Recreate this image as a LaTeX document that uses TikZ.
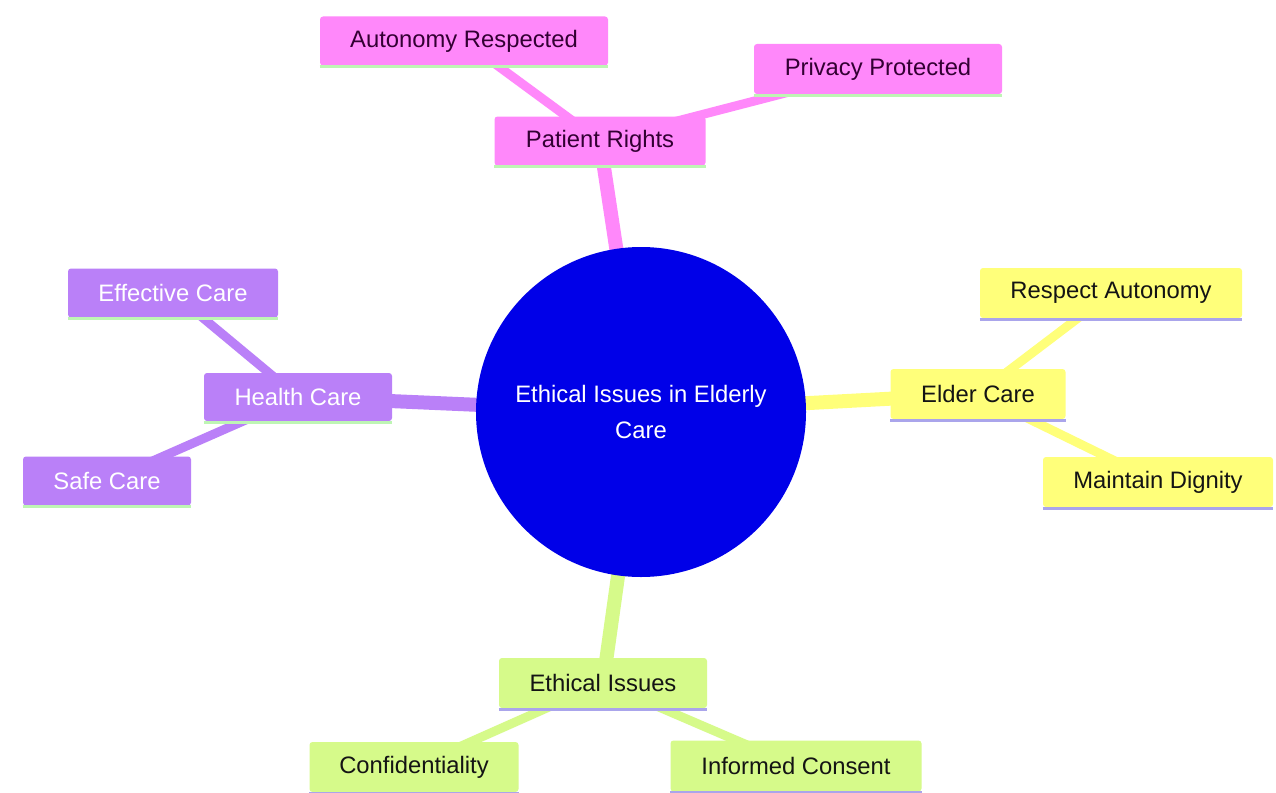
\documentclass[tikz,border=0pt]{standalone}
\usepackage{fontspec}
\setmainfont{Liberation Sans}
\usetikzlibrary{backgrounds}
\definecolor{cblue}{RGB}{0,0,232}
\definecolor{cpink}{RGB}{255,136,250}
\definecolor{cpurple}{RGB}{186,128,248}
\definecolor{cyellow}{RGB}{255,255,122}
\definecolor{cgreen}{RGB}{214,250,138}
\definecolor{cpinktxt}{RGB}{51,0,51}
\definecolor{cdarktxt}{RGB}{20,20,20}
\definecolor{clgreen}{RGB}{190,245,180}
\definecolor{clav}{RGB}{170,165,235}
\begin{document}
\begin{tikzpicture}[x=1pt,y=-1pt,
  box/.style={rectangle,rounded corners=3pt,inner sep=0pt,font=\fontsize{23.8}{28}\selectfont},
  pinkbox/.style={box,fill=cpink,text=cpinktxt},
  purplebox/.style={box,fill=cpurple,text=white},
  yellowbox/.style={box,fill=cyellow,text=cdarktxt},
  greenbox/.style={box,fill=cgreen,text=cdarktxt},
  mainlink/.style={line width=14pt},
  sublink/.style={line width=9pt},
  underline/.style={line width=3pt}]
\useasboundingbox (0,0) rectangle (1276,792);
% root
\node[circle,fill=cblue,minimum size=330pt,inner sep=0pt,text=white,align=center,
  font=\fontsize{23.8}{36}\selectfont] (root) at (641,412) {Ethical Issues in Elderly\\Care};
% patient rights (pink)
\node[pinkbox,minimum width=211pt,minimum height=49pt] (pr) at (600,141) {Patient Rights};
\node[pinkbox,minimum width=288pt,minimum height=49pt] (ar) at (464,41) {Autonomy Respected};
\node[pinkbox,minimum width=248pt,minimum height=50pt] (pp) at (878,69) {Privacy Protected};
% health care (purple)
\node[purplebox,minimum width=188pt,minimum height=48pt] (hc) at (298,397) {Health Care};
\node[purplebox,minimum width=210pt,minimum height=49pt] (ec) at (173,293) {Effective Care};
\node[purplebox,minimum width=168pt,minimum height=49pt] (sc) at (107,481) {Safe Care};
% elder care (yellow)
\node[yellowbox,minimum width=175pt,minimum height=50pt] (elc) at (978,394) {Elder Care};
\node[yellowbox,minimum width=262pt,minimum height=50pt] (ra) at (1111,293) {Respect Autonomy};
\node[yellowbox,minimum width=230pt,minimum height=50pt] (md) at (1158,482) {Maintain Dignity};
% ethical issues (green)
\node[greenbox,minimum width=208pt,minimum height=50pt] (ei) at (603,683) {Ethical Issues};
\node[greenbox,minimum width=209pt,minimum height=50pt] (cf) at (414,767) {Confidentiality};
\node[greenbox,minimum width=251pt,minimum height=51pt] (ic) at (796,766) {Informed Consent};
% underlines
\foreach \n in {pr,ar,pp,hc,ec,sc}{
  \draw[underline,clgreen] ([yshift=-1pt]\n.south west) -- ([yshift=-1pt]\n.south east);}
\foreach \n in {elc,ra,md,ei,cf,ic}{
  \draw[underline,clav] ([yshift=-1pt]\n.south west) -- ([yshift=-1pt]\n.south east);}
\begin{scope}[on background layer]
  \fill[white] (0,0) rectangle (1276,792);
  \draw[mainlink,cpink] (root.center) -- (pr.center);
  \draw[sublink,cpink] (pr.center) -- (ar.center);
  \draw[sublink,cpink] (pr.center) -- (pp.center);
  \draw[mainlink,cpurple] (root.center) -- (hc.center);
  \draw[sublink,cpurple] (hc.center) -- (ec.center);
  \draw[sublink,cpurple] (hc.center) -- (sc.center);
  \draw[mainlink,cyellow] (root.center) -- (elc.center);
  \draw[sublink,cyellow] (elc.center) -- (ra.center);
  \draw[sublink,cyellow] (elc.center) -- (md.center);
  \draw[mainlink,cgreen] (root.center) -- (ei.center);
  \draw[sublink,cgreen] (ei.center) -- (cf.center);
  \draw[sublink,cgreen] (ei.center) -- (ic.center);
\end{scope}
\end{tikzpicture}
\end{document}
